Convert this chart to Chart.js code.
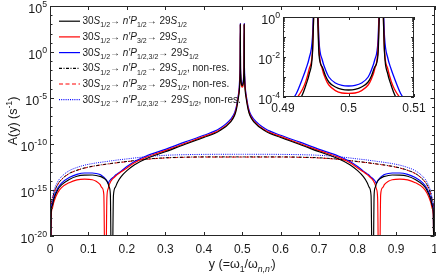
<!DOCTYPE html>
<html><head><meta charset="utf-8">
<script src="https://cdn.jsdelivr.net/npm/chart.js@4/dist/chart.umd.min.js"></script>
<style>
html,body{margin:0;padding:0;background:#fff;}
#wrap{position:relative;width:436px;height:278px;overflow:hidden;}
#main{position:absolute;left:0;top:0;}
#inset{position:absolute;left:255px;top:10px;}
</style></head><body>
<div id="wrap"><canvas id="main" width="436" height="278"></canvas><canvas id="inset" width="181" height="105"></canvas></div>
<script>
// ---- data (y values stored as log10 of A(y) in s^-1) ----
const xLeft = [0, 0.003, 0.006, 0.01, 0.02, 0.03, 0.05, 0.07, 0.09, 0.11, 0.12, 0.13, 0.135, 0.14, 0.144, 0.148, 0.151, 0.154, 0.157, 0.1607, 0.165, 0.17, 0.175, 0.185, 0.2, 0.22, 0.25, 0.3, 0.35, 0.4, 0.44, 0.47, 0.48, 0.485, 0.49, 0.491, 0.492, 0.493, 0.4935, 0.494, 0.4945, 0.495, 0.4955, 0.496, 0.4965, 0.497, 0.498, 0.499, 0.5];
const xRight = [0.501, 0.502, 0.503, 0.5035, 0.504, 0.5045, 0.505, 0.5055, 0.506, 0.5065, 0.507, 0.508, 0.509, 0.51, 0.515, 0.52, 0.53, 0.56, 0.6, 0.65, 0.7, 0.75, 0.78, 0.8, 0.815, 0.825, 0.83, 0.835, 0.8393, 0.843, 0.846, 0.849, 0.852, 0.856, 0.86, 0.865, 0.87, 0.88, 0.89, 0.91, 0.93, 0.95, 0.97, 0.98, 0.99, 0.994, 0.997, 1];

const resP12Left = [-30, -17.6, -16.7, -16.0, -15.0, -14.45, -13.85, -13.5, -13.38, -13.37, -13.42, -13.52, -13.6, -13.72, -13.85, -14.05, -14.3, -14.7, -15.5, -30, -15.6, -14.7, -14.2, -13.55, -12.9, -12.25, -11.6, -10.85, -10.05, -9.3, -8.6, -7.6, -6.9, -6.2, -5.0, -4.7, -4.4, -3.85, -3.4, -2.85, -1.8, 3.0, -1.9, -2.5, -2.95, -3.25, -3.5, -3.62, -3.65];
const resP12Right = [-3.62, -3.5, -3.25, -2.95, -2.5, -1.9, 3.0, -1.8, -2.85, -3.4, -3.85, -4.4, -4.7, -5.0, -6.2, -6.9, -7.6, -8.6, -9.3, -10.05, -10.85, -11.6, -12.25, -12.9, -13.55, -14.2, -14.7, -15.6, -30, -15.5, -14.7, -14.3, -14.05, -13.85, -13.72, -13.6, -13.52, -13.42, -13.37, -13.38, -13.5, -13.85, -14.45, -15.0, -16.0, -16.7, -17.6, -30];

const resP32Left = [-30, -17.9, -17.0, -16.3, -15.3, -14.75, -14.2, -13.9, -13.82, -13.88, -14.05, -14.4, -14.75, -15.5, -30, -15.8, -14.9, -14.45, -14.15, -13.9, -13.7, -13.5, -13.33, -13.02, -12.6, -12.05, -11.45, -10.72, -9.95, -9.2, -8.5, -7.5, -6.8, -6.05, -4.8, -4.5, -4.1, -3.6, -3.2, -2.6, -1.7, 3.0, -1.6, -2.6, -3.1, -3.4, -3.68, -3.8, -3.82];
const resP32Right = [-3.8, -3.68, -3.4, -3.1, -2.6, -1.6, 3.0, -1.7, -2.6, -3.2, -3.6, -4.1, -4.5, -4.8, -6.05, -6.8, -7.5, -8.5, -9.2, -9.95, -10.72, -11.45, -12.05, -12.6, -13.02, -13.33, -13.5, -13.7, -13.9, -14.15, -14.45, -14.9, -15.8, -30, -15.5, -14.75, -14.4, -14.05, -13.88, -13.82, -13.9, -14.2, -14.75, -15.3, -16.3, -17.0, -17.9, -30];

const resBothLeft = [-30, -17.4, -16.5, -15.8, -14.8, -14.25, -13.65, -13.3, -13.15, -13.15, -13.2, -13.32, -13.45, -13.6, -13.78, -14.0, -14.28, -14.05, -13.9, -13.75, -13.6, -13.4, -13.25, -12.95, -12.45, -11.9, -11.3, -10.58, -9.8, -9.05, -8.35, -7.3, -6.6, -5.85, -4.6, -4.3, -3.85, -3.05, -2.6, -2.05, -1.0, 3.1, -1.2, -2.15, -2.65, -3.0, -3.3, -3.42, -3.45];
const resBothRight = [-3.42, -3.3, -3.0, -2.65, -2.15, -1.2, 3.1, -1.0, -2.05, -2.6, -3.05, -3.85, -4.3, -4.6, -5.85, -6.6, -7.3, -8.35, -9.05, -9.8, -10.58, -11.3, -11.9, -12.45, -12.95, -13.25, -13.4, -13.6, -13.75, -13.9, -14.05, -14.28, -14.0, -13.78, -13.6, -13.45, -13.32, -13.2, -13.15, -13.15, -13.3, -13.65, -14.25, -14.8, -15.8, -16.5, -17.4, -30];

const nonResP12Left = [-30, -17.0, -16.1, -15.4, -14.4, -13.85, -13.2, -12.85, -12.6, -12.42, -12.35, -12.28, -12.25, -12.22, -12.2, -12.18, -12.16, -12.14, -12.12, -12.1, -12.08, -12.05, -12.02, -11.97, -11.9, -11.8, -11.65, -11.5, -11.43, -11.4, -11.4, -11.4, -11.4, -11.4, -11.4, -11.4, -11.4, -11.4, -11.4, -11.4, -11.4, -11.4, -11.4, -11.4, -11.4, -11.4, -11.4, -11.4, -11.4];
const nonResP12Right = [-11.4, -11.4, -11.4, -11.4, -11.4, -11.4, -11.4, -11.4, -11.4, -11.4, -11.4, -11.4, -11.4, -11.4, -11.4, -11.4, -11.4, -11.4, -11.4, -11.43, -11.5, -11.65, -11.8, -11.9, -11.97, -12.02, -12.05, -12.08, -12.1, -12.12, -12.14, -12.16, -12.18, -12.2, -12.22, -12.25, -12.28, -12.35, -12.42, -12.6, -12.85, -13.2, -13.85, -14.4, -15.4, -16.1, -17.0, -30];

const nonResP32Left = [-30, -17.02, -16.12, -15.42, -14.42, -13.87, -13.22, -12.87, -12.62, -12.44, -12.37, -12.3, -12.27, -12.24, -12.22, -12.2, -12.18, -12.16, -12.14, -12.12, -12.1, -12.07, -12.04, -11.99, -11.92, -11.82, -11.67, -11.52, -11.45, -11.42, -11.42, -11.42, -11.42, -11.42, -11.42, -11.42, -11.42, -11.42, -11.42, -11.42, -11.42, -11.42, -11.42, -11.42, -11.42, -11.42, -11.42, -11.42, -11.42];
const nonResP32Right = [-11.42, -11.42, -11.42, -11.42, -11.42, -11.42, -11.42, -11.42, -11.42, -11.42, -11.42, -11.42, -11.42, -11.42, -11.42, -11.42, -11.42, -11.42, -11.42, -11.45, -11.52, -11.67, -11.82, -11.92, -11.99, -12.04, -12.07, -12.1, -12.12, -12.14, -12.16, -12.18, -12.2, -12.22, -12.24, -12.27, -12.3, -12.37, -12.44, -12.62, -12.87, -13.22, -13.87, -14.42, -15.42, -16.12, -17.02, -30];

const nonResBothLeft = [-30, -16.7, -15.8, -15.1, -14.1, -13.55, -12.9, -12.55, -12.3, -12.13, -12.06, -12.0, -11.97, -11.94, -11.92, -11.9, -11.88, -11.86, -11.84, -11.82, -11.8, -11.77, -11.74, -11.69, -11.62, -11.52, -11.38, -11.23, -11.16, -11.13, -11.12, -11.12, -11.12, -11.12, -11.12, -11.12, -11.12, -11.12, -11.12, -11.12, -11.12, -11.12, -11.12, -11.12, -11.12, -11.12, -11.12, -11.12, -11.12];
const nonResBothRight = [-11.12, -11.12, -11.12, -11.12, -11.12, -11.12, -11.12, -11.12, -11.12, -11.12, -11.12, -11.12, -11.12, -11.12, -11.12, -11.12, -11.12, -11.12, -11.13, -11.16, -11.23, -11.38, -11.52, -11.62, -11.69, -11.74, -11.77, -11.8, -11.82, -11.84, -11.86, -11.88, -11.9, -11.92, -11.94, -11.97, -12.0, -12.06, -12.13, -12.3, -12.55, -12.9, -13.55, -14.1, -15.1, -15.8, -16.7, -30];

const xTickValues = [0, 0.1, 0.2, 0.3, 0.4, 0.5, 0.6, 0.7, 0.8, 0.9, 1];
const xTickLabels = ['0', '0.1', '0.2', '0.3', '0.4', '0.5', '0.6', '0.7', '0.8', '0.9', '1'];
const yLabelExps = [5, 0, -5, -10, -15, -20];
const insetXTicks = [0.49, 0.5, 0.51];
const insetXTickLabels = ['0.49', '0.5', '0.51'];
const insetYLabelExps = [0, -2, -4];

// ---- helpers ----
const xAll = xLeft.concat(xRight);
function series(l, r) {
  const v = l.concat(r);
  return xAll.map((x, i) => ({ x: x, y: Math.pow(10, v[i]) }));
}
const FAM = '"Liberation Sans", Arial, Helvetica, sans-serif';
const TXT = '#1a1a1a';
function drawRich(ctx, segs, x, y, size, align) {
  let w = 0;
  const parts = segs.map(([t, k]) => {
    const small = k.includes('b') || k.includes('p');
    const s = small ? size * 0.7 : size;
    const it = k.includes('i');
    const font = (it ? 'italic ' : '') + s + 'px ' + FAM;
    ctx.font = font;
    const mw = ctx.measureText(t).width;
    w += mw;
    return { t, k, font, mw };
  });
  let cx = align === 'right' ? x - w : align === 'center' ? x - w / 2 : x;
  ctx.textAlign = 'left';
  ctx.textBaseline = 'alphabetic';
  for (const p of parts) {
    ctx.font = p.font;
    let dy = 0;
    if (p.k.includes('b')) dy = size * 0.32;
    if (p.k.includes('p')) dy = -size * 0.42;
    ctx.fillText(p.t, cx, y + dy);
    cx += p.mw;
  }
  return w;
}

const C_BLACK = '#000000', C_RED = '#ff0000', C_BLUE = '#0000ff';
const DASH_DOT = [3, 1.5, 1, 1.5], DASHED = [4, 2.5], DOTTED = [1, 1.2];

const legendDefs = [
  { color: C_BLACK, dash: [], segs: [['30','n'],['S','i'],['1/2','b'],['\u2192 ','n'],['n\u2032P','i'],['1/2','b'],['\u2192 ','n'],['29','n'],['S','i'],['1/2','b']] },
  { color: C_RED, dash: [], segs: [['30','n'],['S','i'],['1/2','b'],['\u2192 ','n'],['n\u2032P','i'],['3/2','b'],['\u2192 ','n'],['29','n'],['S','i'],['1/2','b']] },
  { color: C_BLUE, dash: [], segs: [['30','n'],['S','i'],['1/2','b'],['\u2192 ','n'],['n\u2032P','i'],['1/2,3/2','b'],['\u2192 ','n'],['29','n'],['S','i'],['1/2','b']] },
  { color: C_BLACK, dash: DASH_DOT, segs: [['30','n'],['S','i'],['1/2','b'],['\u2192 ','n'],['n\u2032P','i'],['1/2','b'],['\u2192 ','n'],['29','n'],['S','i'],['1/2','b'],[', non-res.','n']] },
  { color: C_RED, dash: DASHED, segs: [['30','n'],['S','i'],['1/2','b'],['\u2192 ','n'],['n\u2032P','i'],['3/2','b'],['\u2192 ','n'],['29','n'],['S','i'],['1/2','b'],[', non-res.','n']] },
  { color: C_BLUE, dash: DOTTED, segs: [['30','n'],['S','i'],['1/2','b'],['\u2192 ','n'],['n\u2032P','i'],['1/2,3/2','b'],['\u2192 ','n'],['29','n'],['S','i'],['1/2','b'],[', non-res.','n']] }
];

function ds(label, data, color, dash, width) {
  return { label, data, borderColor: color, borderDash: dash, borderWidth: width, pointRadius: 0, fill: false, cubicInterpolationMode: 'monotone' };
}

const mainDeco = {
  id: 'mainDeco',
  afterDraw(chart) {
    const { ctx, chartArea: ca } = chart;
    const xs = chart.scales.x, ys = chart.scales.y;
    ctx.save();
    ctx.strokeStyle = '#262626';
    ctx.lineWidth = 1;
    ctx.setLineDash([]);
    ctx.strokeRect(Math.round(ca.left) + 0.5, Math.round(ca.top) + 0.5, Math.round(ca.right - ca.left) - 1, Math.round(ca.bottom - ca.top) - 1);
    ctx.beginPath();
    for (const v of xTickValues) {
      const px = Math.round(xs.getPixelForValue(v)) + 0.5;
      ctx.moveTo(px, ca.bottom); ctx.lineTo(px, ca.bottom - 4);
      ctx.moveTo(px, ca.top); ctx.lineTo(px, ca.top + 4);
    }
    for (let e = -20; e <= 5; e++) {
      const py = Math.round(ys.getPixelForValue(Math.pow(10, e))) + 0.5;
      const len = (e % 5 === 0) ? 4 : 2.5;
      ctx.moveTo(ca.left, py); ctx.lineTo(ca.left + len, py);
      ctx.moveTo(ca.right, py); ctx.lineTo(ca.right - len, py);
    }
    ctx.stroke();
    ctx.fillStyle = TXT;
    ctx.font = '12px ' + FAM;
    ctx.textAlign = 'center'; ctx.textBaseline = 'alphabetic';
    xTickValues.forEach((v, i) => {
      ctx.fillText(xTickLabels[i], xs.getPixelForValue(v), ca.bottom + 17);
    });
    for (const e of yLabelExps) {
      const py = ys.getPixelForValue(Math.pow(10, e));
      drawRich(ctx, [['10','n'],[String(e),'p']], ca.left - 3, py + 6.5, 12.5, 'right');
    }
    // axis titles
    drawRich(ctx, [['y (=','n'],['\u03C9','n'],['1','b'],['/','n'],['\u03C9','n'],['n,n\u2032','bi'],[')','n']], (ca.left + ca.right) / 2, 268, 12.5, 'center');
    ctx.save();
    ctx.translate(17, (ca.top + ca.bottom) / 2);
    ctx.rotate(-Math.PI / 2);
    drawRich(ctx, [['A(y) (s','n'],['-1','p'],[')','n']], 0, 0, 12.5, 'center');
    ctx.restore();
    // legend
    legendDefs.forEach((d, i) => {
      const ry = 20.7 + i * 15.7;
      ctx.strokeStyle = d.color; ctx.lineWidth = 1.2; ctx.setLineDash(d.dash);
      ctx.beginPath(); ctx.moveTo(59, ry + 0.5); ctx.lineTo(80, ry + 0.5); ctx.stroke();
      ctx.setLineDash([]);
      ctx.fillStyle = TXT;
      drawRich(ctx, d.segs, 82.5, ry + 3.5, 10, 'left');
    });
    ctx.restore();
  }
};

new Chart(document.getElementById('main'), {
  type: 'line',
  data: { datasets: [
    ds('res P1/2', series(resP12Left, resP12Right), C_BLACK, [], 1.15),
    ds('res P3/2', series(resP32Left, resP32Right), C_RED, [], 1.15),
    ds('res P1/2,3/2', series(resBothLeft, resBothRight), C_BLUE, [], 1.15),
    ds('non-res P1/2', series(nonResP12Left, nonResP12Right), C_BLACK, DASH_DOT, 1),
    ds('non-res P3/2', series(nonResP32Left, nonResP32Right), C_RED, DASHED, 1),
    ds('non-res P1/2,3/2', series(nonResBothLeft, nonResBothRight), C_BLUE, DOTTED, 1)
  ] },
  options: {
    responsive: false, animation: false, devicePixelRatio: 1,
    layout: { padding: { left: 50, right: 1.5, top: 6, bottom: 42 } },
    plugins: { legend: { display: false }, tooltip: { enabled: false } },
    scales: {
      x: { type: 'linear', min: 0, max: 1, display: false },
      y: { type: 'logarithmic', min: 1e-20, max: 1e5, display: false }
    }
  },
  plugins: [mainDeco]
});

const insetDeco = {
  id: 'insetDeco',
  beforeDraw(chart) {
    const { ctx, chartArea: ca } = chart;
    ctx.save(); ctx.fillStyle = '#ffffff';
    ctx.fillRect(ca.left, ca.top, ca.right - ca.left, ca.bottom - ca.top);
    ctx.restore();
  },
  afterDraw(chart) {
    const { ctx, chartArea: ca } = chart;
    const xs = chart.scales.x, ys = chart.scales.y;
    ctx.save();
    ctx.strokeStyle = '#262626'; ctx.lineWidth = 1;
    ctx.strokeRect(Math.round(ca.left) + 0.5, Math.round(ca.top) + 0.5, Math.round(ca.right - ca.left) - 1, Math.round(ca.bottom - ca.top) - 1);
    ctx.beginPath();
    for (const v of insetXTicks) {
      const px = Math.round(xs.getPixelForValue(v)) + 0.5;
      ctx.moveTo(px, ca.bottom); ctx.lineTo(px, ca.bottom - 3);
      ctx.moveTo(px, ca.top); ctx.lineTo(px, ca.top + 3);
    }
    for (let e = -4; e <= 0; e++) {
      for (let m = 1; m <= 9; m++) {
        if (e === 0 && m > 1) continue;
        const py = Math.round(ys.getPixelForValue(m * Math.pow(10, e))) + 0.5;
        const len = m === 1 ? 3 : 1.8;
        ctx.moveTo(ca.left, py); ctx.lineTo(ca.left + len, py);
        ctx.moveTo(ca.right, py); ctx.lineTo(ca.right - len, py);
      }
    }
    ctx.stroke();
    ctx.fillStyle = TXT;
    ctx.font = '12px ' + FAM;
    ctx.textAlign = 'center'; ctx.textBaseline = 'alphabetic';
    insetXTicks.forEach((v, i) => ctx.fillText(insetXTickLabels[i], xs.getPixelForValue(v), ca.bottom + 15));
    for (const e of insetYLabelExps) {
      const py = ys.getPixelForValue(Math.pow(10, e));
      drawRich(ctx, [['10','n'],[String(e),'p']], ca.left - 3, py + 6.5, 12.5, 'right');
    }
    ctx.restore();
  }
};

new Chart(document.getElementById('inset'), {
  type: 'line',
  data: { datasets: [
    ds('res P1/2', series(resP12Left, resP12Right), C_BLACK, [], 1.3),
    ds('res P3/2', series(resP32Left, resP32Right), C_RED, [], 1.3),
    ds('res P1/2,3/2', series(resBothLeft, resBothRight), C_BLUE, [], 1.3)
  ] },
  options: {
    responsive: false, animation: false, devicePixelRatio: 1,
    layout: { padding: { left: 28, right: 22, top: 7, bottom: 18 } },
    plugins: { legend: { display: false }, tooltip: { enabled: false } },
    scales: {
      x: { type: 'linear', min: 0.49, max: 0.51, display: false },
      y: { type: 'logarithmic', min: 1e-4, max: 1, display: false }
    }
  },
  plugins: [insetDeco]
});
</script>
</body></html>
